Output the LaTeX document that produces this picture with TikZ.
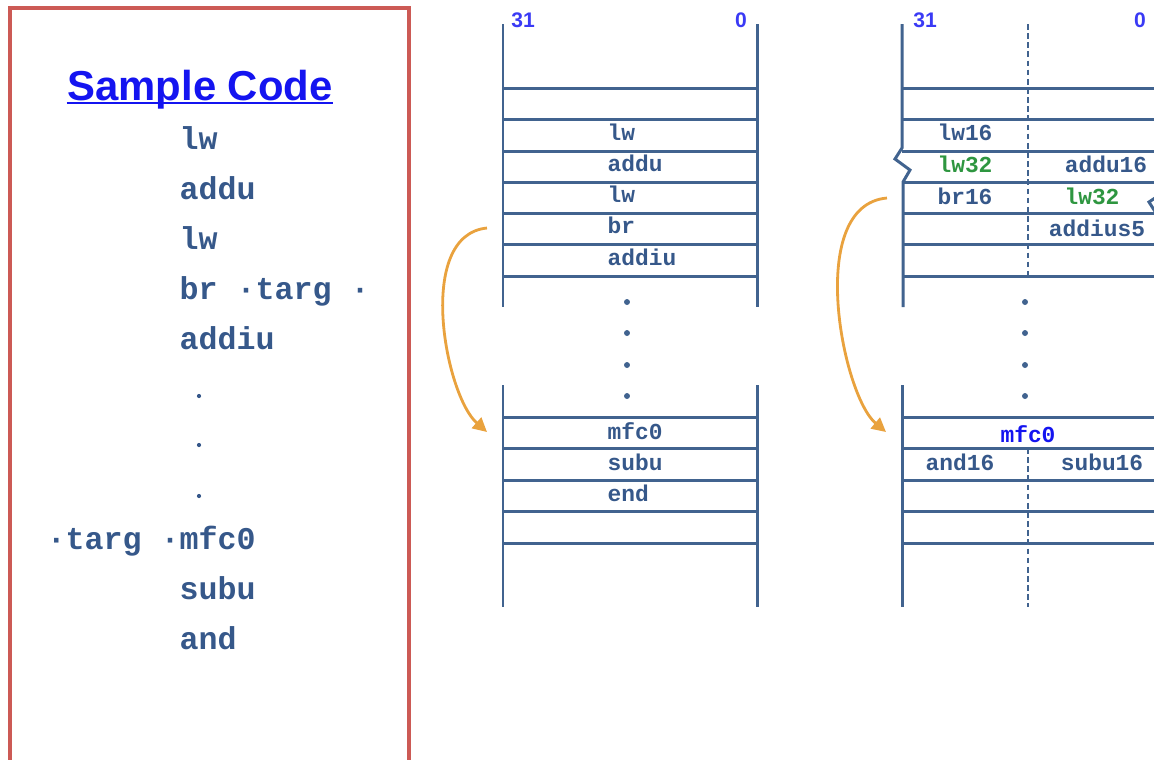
\documentclass[tikz,border=0pt]{standalone}
\usepackage{fontspec}
\setmainfont{Liberation Sans}
\newfontfamily\codefont{Liberation Mono}
\usetikzlibrary{arrows.meta}
\definecolor{framered}{HTML}{CC5A55}
\definecolor{rulecol}{HTML}{41638F}
\definecolor{codecol}{HTML}{36588A}
\definecolor{titleblue}{HTML}{1414F0}
\definecolor{bitblue}{HTML}{3A3AF5}
\definecolor{okgreen}{HTML}{2E9640}
\definecolor{jumpcol}{HTML}{E9A23E}
\begin{document}
\begin{tikzpicture}[x=0.01cm,y=-0.01cm,
  frame/.style={draw=framered, line width=1.4pt},
  rule/.style={draw=rulecol, line width=0.85pt},
  split/.style={draw=rulecol, line width=0.6pt, dash pattern=on 1.6pt off 1pt},
  title/.style={text=titleblue, font=\bfseries\fontsize{11.9}{12}\selectfont, anchor=base, inner sep=0},
  src/.style={text=codecol, font=\codefont\bfseries\fontsize{9}{9}\selectfont, anchor=base west, inner sep=0},
  word/.style={text=codecol, font=\codefont\bfseries\fontsize{6.5}{6.5}\selectfont, anchor=base, inner sep=0},
  bitno/.style={text=bitblue, font=\bfseries\fontsize{6}{6}\selectfont, inner sep=0},
  vdot/.style={circle, fill=rulecol, inner sep=0, minimum size=1.7pt},
  sdot/.style={circle, fill=codecol, inner sep=0, minimum size=1.2pt},
  jump/.style={draw=jumpcol, line width=0.8pt, -{Triangle[length=4pt,width=4pt]}}]
\useasboundingbox (0,0) rectangle (1154,759);

\draw[frame] (10,765) -- (10,8) -- (409,8) -- (409,765);
\node[title] (title) at (200,100) {Sample Code};
\draw[titleblue, line width=0.7pt] ([yshift=-0.9pt]title.base west) -- ([yshift=-0.9pt]title.base east);
\foreach \txt [count=\i] in {lw,addu,lw,br ·targ ·,addiu}
  \node[src] (src\i) at (179,{99+50*\i}) {\txt};
\foreach \y [count=\i] in {396,445,496}
  \node[sdot] (gap\i) at (199,\y) {};
\node[src] (targ) at (179,549) {\llap{·targ ·}mfc0};
\node[src] (subu) at (179,599) {subu};
\node[src] (and) at (179,649) {and};

\draw[rule] (503,24) -- (503,307);
\draw[rule] (757,24) -- (757,307);
\draw[rule] (503,385) -- (503,607);
\draw[rule] (757,385) -- (757,607);
\foreach \y in {88,119,151,182,213,244,276,417,448,480,511,543}
  \draw[rule] (503,\y) -- (757,\y);
\node[bitno] (hiA) at (523,20) {31};
\node[bitno] (loA) at (741,20) {0};
\foreach \txt/\y [count=\i] in {lw/140,addu/171,lw/202,br/233,addiu/265,mfc0/439,subu/470,end/501}
  \node[word, anchor=base west] (wA\i) at (607,\y) {\txt};
\foreach \y [count=\i] in {302,333,365,396}
  \node[vdot] (dA\i) at (627,\y) {};

\draw[rule] (902,24) -- (902,148) -- (895,159) -- (910,170) -- (903,182) -- (903,307);
\draw[rule] (1157,24) -- (1157,182) -- (1164,192) -- (1149,202) -- (1156,213) -- (1156,307);
\draw[rule] (902,385) -- (902,607);
\draw[rule] (1157,385) -- (1157,607);
\foreach \y in {88,119,151,182,213,244,276,417,448,480,511,543}
  \draw[rule] (902,\y) -- (1157,\y);
\draw[split] (1028,24) -- (1028,276);
\draw[split] (1028,448) -- (1028,607);
\node[bitno] (hiB) at (925,20) {31};
\node[bitno] (loB) at (1140,20) {0};
\node[word] (lwB) at (965,140) {lw16};
\node[word, text=okgreen] (lwhiB) at (965,172) {lw32};
\node[word] (adduB) at (1106,172) {addu16};
\node[word] (brB) at (965,204) {br16};
\node[word, text=okgreen] (lwloB) at (1092,204) {lw32};
\node[word] (addiuB) at (1097,236) {addius5};
\node[word, text=titleblue] (mfcB) at (1028,442) {mfc0};
\node[word] (andB) at (960,470) {and16};
\node[word] (subuB) at (1102,470) {subu16};
\foreach \y [count=\i] in {302,333,365,396}
  \node[vdot] (dB\i) at (1025,\y) {};

\coordinate (fromA) at (487,228);
\coordinate (toA) at (487,432);
\draw[jump] (fromA) .. controls (415,235) and (445,395) .. (toA);
\coordinate (fromB) at (887,198);
\coordinate (toB) at (886,432);
\draw[jump] (fromB) .. controls (805,205) and (842,395) .. (toB);
\end{tikzpicture}
\end{document}
